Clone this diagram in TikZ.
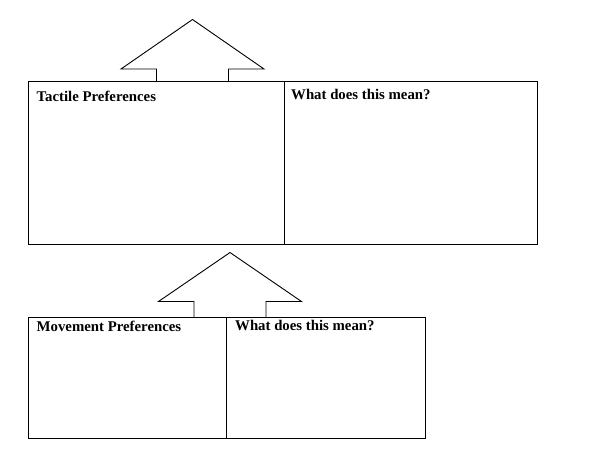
\documentclass[tikz,border=0pt]{standalone}
\usepackage{fontspec}
\setmainfont{Liberation Serif}
\begin{document}
\begin{tikzpicture} [x=1pt, y=-1pt,
        cell/.style={draw, line width=1.3pt, inner sep=0pt, anchor=north west},
        heading/.style={anchor=base west, inner sep=0pt, font=\bfseries\fontsize{14.8}{17}\selectfont}]
    \useasboundingbox (0,0) rectangle (602,471);
    % top row
    \node[cell, minimum width=256.5pt, minimum height=162.5pt] (pref-1) at (27.5,81) {};
    \node[cell, minimum width=253pt, minimum height=162.5pt] (mean-1) at (284,81) {};
    % bottom row
    \node[cell, minimum width=198.5pt, minimum height=120.5pt] (pref-2) at (27.5,317) {};
    \node[cell, minimum width=199pt, minimum height=120.5pt] (mean-2) at (226,317) {};
    \node[heading] (tp) at (36.5,101) {Tactile Preferences};
    \node[heading] (wm-1) at (291,99.5) {What does this mean?};
    \node[heading] (mp) at (36.5,331.5) {Movement Preferences};
    \node[heading] (wm-2) at (235,330.5) {What does this mean?};
    \foreach \c/\b/\s/\a in {192.5/81/69/19.5, 230/317/301.5/252.5}
        \draw[line width=0.9pt] (\c-36,\b) -- (\c-36,\s) -- (\c-71.5,\s) -- (\c,\a)
            -- (\c+71.5,\s) -- (\c+36,\s) -- (\c+36,\b);
\end{tikzpicture}
\end{document}
